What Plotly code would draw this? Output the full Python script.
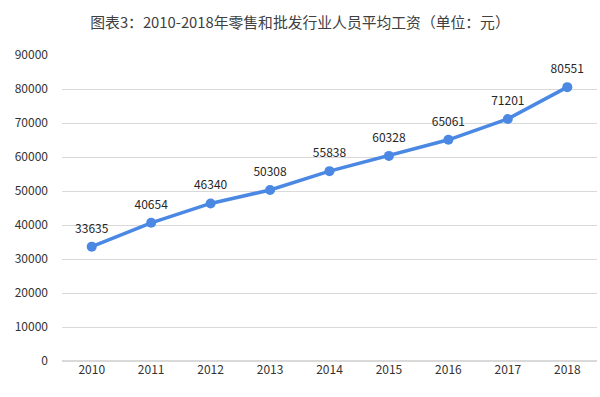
import plotly.graph_objects as go

years = ["2010", "2011", "2012", "2013", "2014", "2015", "2016", "2017", "2018"]
wages = [33635, 40654, 46340, 50308, 55838, 60328, 65061, 71201, 80551]
y_ticks = [0, 10000, 20000, 30000, 40000, 50000, 60000, 70000, 80000, 90000]
title_text = "图表3：2010-2018年零售和批发行业人员平均工资（单位：元）"

font_fam = "Noto Sans CJK SC, Noto Sans, sans-serif"

fig = go.Figure()
fig.add_trace(go.Scatter(
    x=years, y=wages,
    mode="lines+markers",
    line=dict(color="#4A88E4", width=3.5),
    marker=dict(color="#4A88E4", size=10),
    hoverinfo="skip",
))
fig.add_trace(go.Scatter(
    x=years, y=wages,
    mode="markers+text",
    text=[str(v) for v in wages],
    textposition="top center",
    textfont=dict(size=12, color="#262626", family=font_fam),
    marker=dict(size=16, color="rgba(0,0,0,0)"),
    cliponaxis=False,
    hoverinfo="skip",
))

fig.update_layout(
    width=600, height=397,
    margin=dict(l=62, r=3, t=55, b=36),
    paper_bgcolor="white", plot_bgcolor="white",
    showlegend=False,
    title=dict(text=title_text, x=0.5, xanchor="center", y=1 - 23 / 397, yanchor="middle",
               font=dict(size=14.8, color="#404040", family=font_fam)),
    xaxis=dict(type="category", range=[-0.5, len(years) - 0.5], showgrid=False,
               showline=False, ticks="",
               tickfont=dict(size=12, color="#333333", family=font_fam)),
    yaxis=dict(range=[0, 90000], tickvals=y_ticks, ticktext=[str(v) for v in y_ticks],
               showgrid=True, gridcolor="#D9D9D9", gridwidth=1, zeroline=True,
               zerolinecolor="#D9D9D9", showline=False, ticks="", ticklabelstandoff=13,
               tickfont=dict(size=12, color="#333333", family=font_fam)),
)

fig.write_html("out.html", config={"displayModeBar": False},
               post_script="document.body.style.margin='0';")
